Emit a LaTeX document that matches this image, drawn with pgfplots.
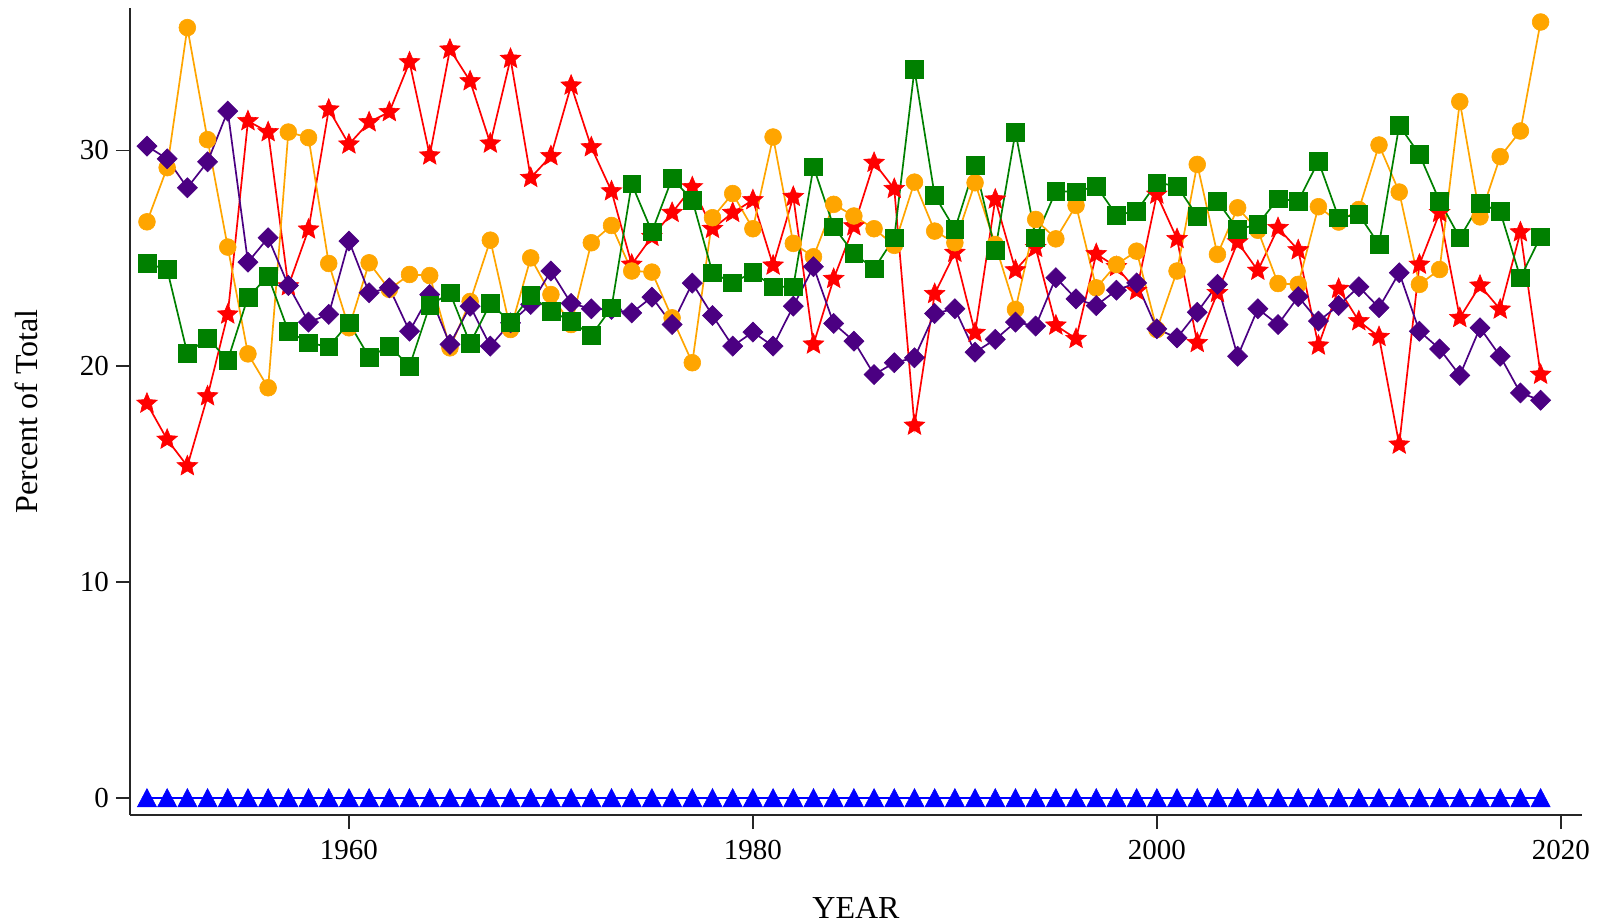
\documentclass[border=0pt]{standalone}
\usepackage{fontspec}
\setmainfont{Liberation Serif}
\usepackage{pgfplots}
\usepackage{pgfplotstable}
\pgfplotsset{compat=1.18}

\definecolor{cOrange}{RGB}{255,165,0}
\definecolor{cRed}{RGB}{255,0,0}
\definecolor{cPurple}{RGB}{75,0,130}
\definecolor{cGreen}{RGB}{0,128,0}
\definecolor{cBlue}{RGB}{0,0,255}

\pgfdeclareplotmark{fstar}{%
  \pgfpathmoveto{\pgfpointpolar{90}{\pgfplotmarksize}}%
  \pgfpathlineto{\pgfpointpolar{126}{0.45\pgfplotmarksize}}%
  \pgfpathlineto{\pgfpointpolar{162}{\pgfplotmarksize}}%
  \pgfpathlineto{\pgfpointpolar{198}{0.45\pgfplotmarksize}}%
  \pgfpathlineto{\pgfpointpolar{234}{\pgfplotmarksize}}%
  \pgfpathlineto{\pgfpointpolar{270}{0.45\pgfplotmarksize}}%
  \pgfpathlineto{\pgfpointpolar{306}{\pgfplotmarksize}}%
  \pgfpathlineto{\pgfpointpolar{342}{0.45\pgfplotmarksize}}%
  \pgfpathlineto{\pgfpointpolar{18}{\pgfplotmarksize}}%
  \pgfpathlineto{\pgfpointpolar{54}{0.45\pgfplotmarksize}}%
  \pgfpathclose
  \pgfusepathqfillstroke
}

\pgfplotstableread{
year orange red purple green blue
1950 26.69 18.27 30.20 24.76 0
1951 29.20 16.60 29.61 24.48 0
1952 35.69 15.37 28.27 20.59 0
1953 30.50 18.61 29.47 21.31 0
1954 25.52 22.40 31.82 20.28 0
1955 20.57 31.36 24.82 23.20 0
1956 19.00 30.85 25.95 24.17 0
1957 30.85 23.71 23.74 21.62 0
1958 30.59 26.34 22.04 21.08 0
1959 24.76 31.90 22.40 20.90 0
1960 21.78 30.28 25.80 22.01 0
1961 24.79 31.31 23.40 20.42 0
1962 23.56 31.78 23.63 20.93 0
1963 24.25 34.09 21.62 20.00 0
1964 24.20 29.77 23.32 22.81 0
1965 20.85 34.68 21.01 23.40 0
1966 23.00 33.21 22.78 21.05 0
1967 25.84 30.32 20.93 22.91 0
1968 21.70 34.25 22.01 22.04 0
1969 25.02 28.73 22.86 23.28 0
1970 23.32 29.74 24.41 22.55 0
1971 21.93 33.01 22.91 22.09 0
1972 25.72 30.15 22.66 21.42 0
1973 26.52 28.11 22.63 22.71 0
1974 24.41 24.71 22.47 28.45 0
1975 24.36 26.00 23.20 26.23 0
1976 22.24 27.11 21.93 28.70 0
1977 20.16 28.30 23.85 27.70 0
1978 26.88 26.37 22.35 24.33 0
1979 28.00 27.11 20.93 23.86 0
1980 26.37 27.70 21.58 24.36 0
1981 30.62 24.67 20.93 23.68 0
1982 25.69 27.85 22.78 23.68 0
1983 25.07 21.01 24.61 29.24 0
1984 27.50 24.05 21.98 26.46 0
1985 26.96 26.49 21.16 25.22 0
1986 26.37 29.43 19.61 24.51 0
1987 25.60 28.22 20.16 25.95 0
1988 28.53 17.25 20.39 33.75 0
1989 26.26 23.35 22.44 27.91 0
1990 25.72 25.26 22.66 26.34 0
1991 28.50 21.55 20.65 29.32 0
1992 25.64 27.73 21.24 25.38 0
1993 22.63 24.45 22.04 30.85 0
1994 26.80 25.49 21.86 25.95 0
1995 25.90 21.89 24.10 28.11 0
1996 27.45 21.27 23.12 28.08 0
1997 23.63 25.20 22.81 28.35 0
1998 24.71 24.60 23.52 27.00 0
1999 25.33 23.50 23.86 27.19 0
2000 21.70 27.96 21.73 28.50 0
2001 24.41 25.90 21.31 28.35 0
2002 29.35 21.08 22.50 26.96 0
2003 25.18 23.40 23.79 27.65 0
2004 27.34 25.75 20.46 26.34 0
2005 26.30 24.43 22.66 26.57 0
2006 23.83 26.41 21.93 27.76 0
2007 23.79 25.38 23.22 27.65 0
2008 27.39 20.96 22.09 29.50 0
2009 26.68 23.59 22.81 26.88 0
2010 27.26 22.09 23.68 27.03 0
2011 30.25 21.36 22.71 25.64 0
2012 28.07 16.37 24.33 31.16 0
2013 23.79 24.71 21.62 29.81 0
2014 24.48 27.11 20.80 27.65 0
2015 32.26 22.24 19.57 25.95 0
2016 26.92 23.74 21.78 27.54 0
2017 29.71 22.63 20.46 27.16 0
2018 30.90 26.21 18.76 24.10 0
2019 35.95 19.61 18.42 26.00 0
}\datatable

\begin{document}
\begin{tikzpicture}
\begin{axis}[
  name=ax,
  scale only axis,
  width=726pt, height=403.5pt,
  xmin=1949.16, xmax=2021.05,
  ymin=-0.8, ymax=36.6,
  axis x line*=bottom,
  axis y line*=left,
  axis line style={line width=1pt, black!85},
  xtick={1960,1980,2000,2020},
  ytick={0,10,20,30},
  tick align=outside,
  major tick length=7pt,
  tick style={line width=0.9pt, black!85},
  /pgf/number format/assume math mode=true,
  /pgf/number format/1000 sep={},
  ticklabel style={font=\fontsize{14.5}{17}\selectfont},
  xticklabel style={yshift=-2pt},
  xlabel={YEAR},
  ylabel={Percent of Total},
  label style={font=\fontsize{16}{19}\selectfont},
  xlabel style={at={(axis description cs:0.5,-0.1152)}, anchor=center},
  ylabel style={at={(axis description cs:-0.0716,0.5)}, anchor=center},
  clip=false,
  every axis plot/.append style={line width=0.85pt},
]
\addplot[cBlue, mark=triangle*, mark size=5.5pt, mark options={solid, fill=cBlue, draw=cBlue, line width=0.3pt, yshift=-1.5pt, yscale=1.1}] table[x=year, y=blue] {\datatable};
\addplot[cRed, mark=fstar, mark size=5.4pt, mark options={solid, fill=cRed, draw=cRed, line width=0.3pt}] table[x=year, y=red] {\datatable};
\addplot[cOrange, mark=*, mark size=4.2pt, mark options={solid, fill=cOrange, draw=cOrange, line width=0.3pt}] table[x=year, y=orange] {\datatable};
\addplot[cPurple, mark=square*, mark size=3.55pt, mark options={solid, fill=cPurple, draw=cPurple, line width=0.3pt, rotate=45}] table[x=year, y=purple] {\datatable};
\addplot[cGreen, mark=square*, mark size=4.45pt, mark options={solid, fill=cGreen, draw=cGreen, line width=0.3pt}] table[x=year, y=green] {\datatable};
\end{axis}
\pgfresetboundingbox
\path[use as bounding box] ([shift={(-65pt,-54.5pt)}]ax.south west) rectangle ([shift={(737pt,407.5pt)}]ax.south west);
\end{tikzpicture}
\end{document}
